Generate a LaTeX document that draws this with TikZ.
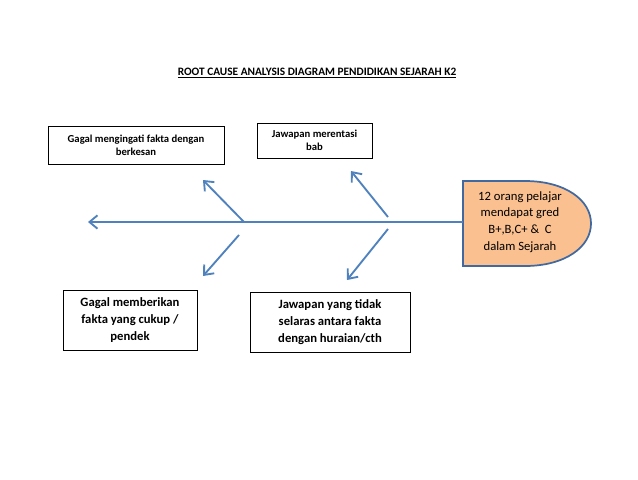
\documentclass[tikz,border=0pt]{standalone}
\usepackage{fontspec}
\setmainfont{Carlito}
\usetikzlibrary{arrows.meta}
\begin{document}
\begin{tikzpicture}[x=0.75pt,y=-0.75pt,
 box/.style={align=center,inner sep=2pt,font=\fontsize{8}{10}\selectfont\bfseries},
 bone/.style={draw=sp,line width=1.4pt,-{Straight Barb[length=6pt,width=10pt]}}]
\useasboundingbox (0,0) rectangle (638,479);
\definecolor{sp}{RGB}{79,129,189}
\definecolor{hd}{RGB}{250,192,144}
\definecolor{hb}{RGB}{65,105,160}
\node[font=\fontsize{8.5}{10}\selectfont\bfseries] (t) at (317,73) {\underline{ROOT CAUSE ANALYSIS DIAGRAM PENDIDIKAN SEJARAH K2}};
\draw[line width=0.6pt] (48,126) rectangle (224,164);
\node[box] (b1) at (136,145) {Gagal mengingati fakta dengan\\berkesan};
\draw[line width=0.6pt] (257,123) rectangle (372,158);
\node[box] (b2) at (314.5,140.5) {Jawapan merentasi\\bab};
\draw[line width=0.6pt] (63,290) rectangle (197,350);
\node[box,font=\fontsize{9.5}{12.5}\selectfont\bfseries] (b3) at (130,320) {Gagal memberikan\\fakta yang cukup /\\pendek};
\draw[line width=0.6pt] (250,292) rectangle (410,352);
\node[box,font=\fontsize{9.5}{12.5}\selectfont\bfseries] (b4) at (330,322) {Jawapan yang tidak\\selaras antara fakta\\dengan huraian/cth};
\draw[line width=1.3pt,draw=hb,fill=hd]
 (463,181) -- (525,181) .. controls (565,181) and (591,200) .. (591,223.5) .. controls (591,247) and (565,266) .. (525,266) -- (463,266) -- cycle;
\node[font=\fontsize{9.5}{12.5}\selectfont,align=center] (h) at (520,222) {12 orang pelajar\\mendapat gred\\B+,B,C+ \&\ \ C\\dalam Sejarah};
\coordinate (hl) at (463,222);
\coordinate (tl) at (88,222);
\draw[bone] (hl) -- (tl);
\coordinate (a1) at (244,222); \coordinate (a1e) at (203,180);
\coordinate (a2) at (388,217); \coordinate (a2e) at (351,171);
\coordinate (a3) at (239,235); \coordinate (a3e) at (203,276);
\coordinate (a4) at (388,229); \coordinate (a4e) at (347,280);
\foreach \s/\e in {a1/a1e,a2/a2e,a3/a3e,a4/a4e}
 \draw[bone] (\s) -- (\e);
\end{tikzpicture}
\end{document}
